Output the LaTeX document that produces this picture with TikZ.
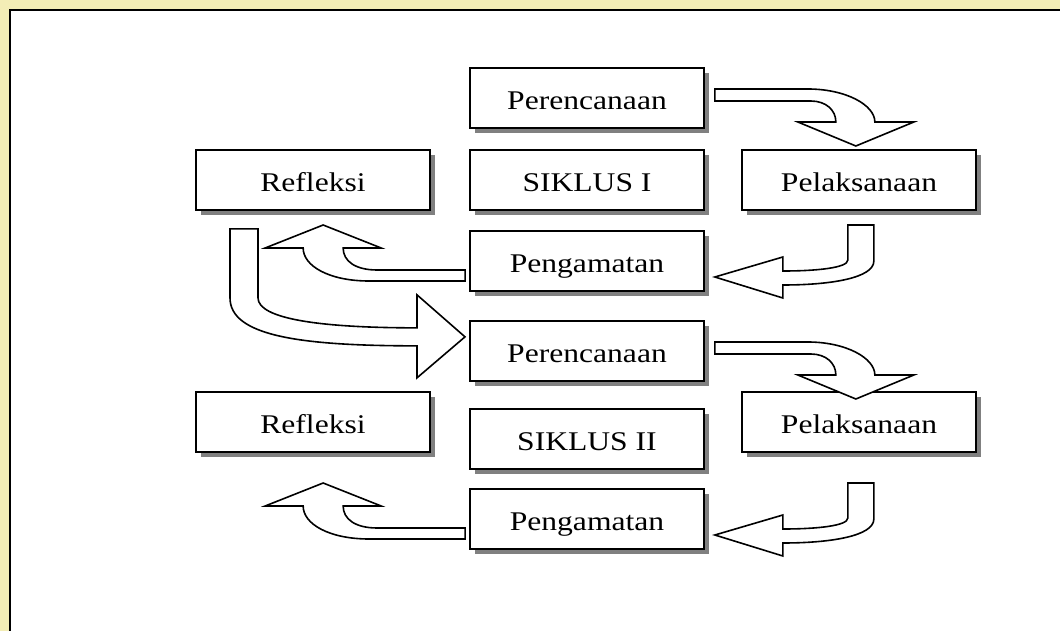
\documentclass[tikz,border=0pt]{standalone}
\usepackage{fontspec}
\newfontfamily\tnr[FakeStretch=1.17]{Liberation Serif}
\usetikzlibrary{shadows}
\definecolor{shadowgray}{HTML}{808080}
\definecolor{margincol}{HTML}{F3EDB6}
\tikzset{
  box/.style={draw, line width=1.7pt, fill=white, minimum width=234pt,
    minimum height=60pt, inner sep=0pt, text height=23pt, text depth=0pt,
    font=\tnr\fontsize{27}{30}\selectfont,
    drop shadow={shadow xshift=5pt, shadow yshift=-5pt, fill=shadowgray, opacity=1}},
  blockarrow/.style={draw, line width=1.6pt, fill=white, line join=miter},
  arrA/.pic={\draw[blockarrow] (10,-9) -- (103,-9) .. controls (141,-9) and (170,7) .. (170,24)
      -- (209,24) -- (151,48) -- (93,24) -- (131,24)
      .. controls (131,12) and (121,3) .. (106,3) -- (10,3) -- cycle;},
  arrB/.pic={\draw[blockarrow] (143,-36) -- (169,-36) -- (169,0)
      .. controls (169,17) and (126,24) .. (78,24) -- (78,37) -- (10,16) -- (78,-4) -- (78,10)
      .. controls (111,10) and (143,7) .. (143,-1) -- cycle;},
  arrC/.pic={\draw[blockarrow] (-4,9) -- (-92,9) .. controls (-114,9) and (-126,0) .. (-126,-13)
      -- (-88,-13) -- (-146,-36) -- (-204,-13) -- (-166,-13)
      .. controls (-166,5) and (-140,20) .. (-100,20) -- (-4,20) -- cycle;},
  arrD/.pic={\draw[blockarrow] (-83,18) -- (-55,18) -- (-55,87)
      .. controls (-55,108) and (7,117) .. (104,117) -- (104,84) -- (152,126) -- (104,167) -- (104,135)
      .. controls (-13,135) and (-83,125) .. (-83,87) -- cycle;}
}
\begin{document}
\begin{tikzpicture}[x=1pt,y=-1pt]
\useasboundingbox (0,0) rectangle (1060,631);
\clip (0,0) rectangle (1060,631);
\fill[margincol] (0,0) rectangle (1060,631);
\draw[line width=2pt, fill=white] (10,10) rectangle (1075,645);

\node[box] (per1) at (587,98) {Perencanaan};
\node[box] (ref1) at (313,180) {Refleksi};
\node[box] (sik1) at (587,180) {SIKLUS I};
\node[box] (pel1) at (859,180) {Pelaksanaan};
\node[box] (peng1) at (587,261) {Pengamatan};

\node[box] (per2) at (587,351) {Perencanaan};
\node[box] (ref2) at (313,422) {Refleksi};
\node[box] (sik2) at (587,439) {SIKLUS II};
\node[box] (pel2) at (859,422) {Pelaksanaan};
\node[box] (peng2) at (587,519) {Pengamatan};

\path (per1.east) pic {arrA};
\path (peng1.east) pic {arrB};
\path (peng1.west) pic {arrC};
\path (ref1.south) pic {arrD};
\path (per2.east) pic {arrA};
\path (peng2.east) pic {arrB};
\path (peng2.west) pic {arrC};
\end{tikzpicture}
\end{document}
